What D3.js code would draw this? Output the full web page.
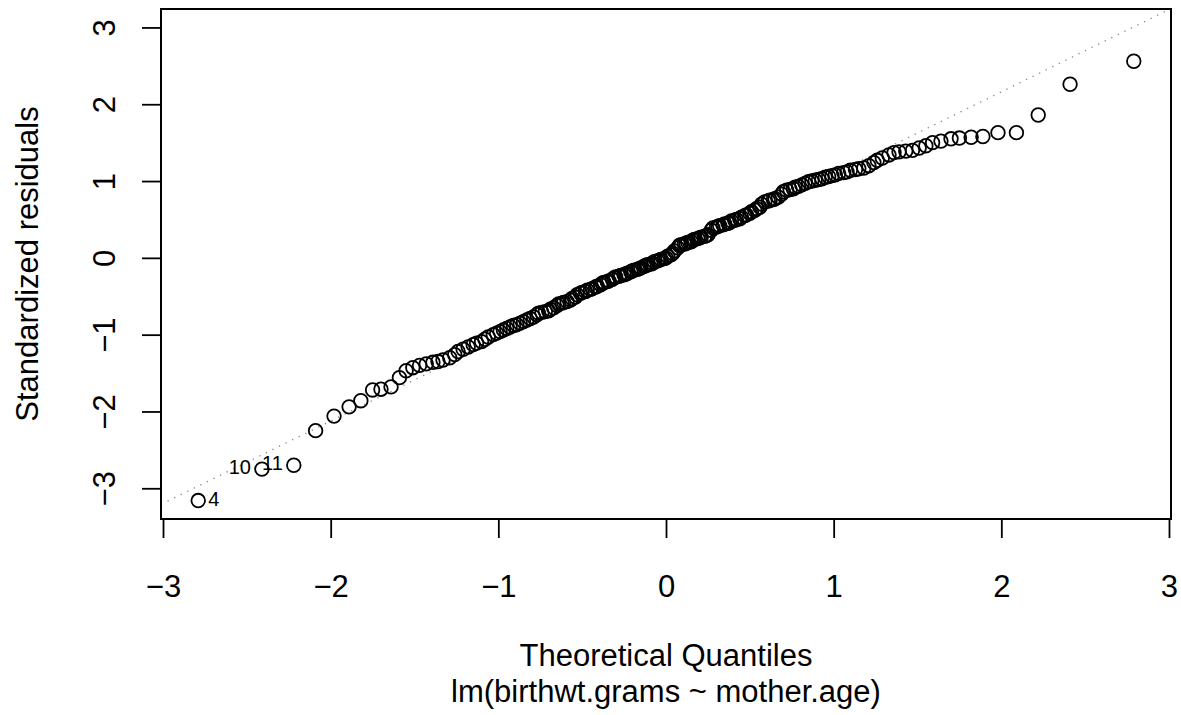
<!DOCTYPE html>
<html>
<head>
  <meta charset="utf-8">
  <title>Normal Q-Q</title>
  <script type="text/javascript" src="https://d3js.org/d3.v7.min.js"></script>
  <style>
    body { margin: 0; background: #fff; }
    text { font-family: "Liberation Sans", Arial, sans-serif; fill: #000; }
  </style>
</head>

<body>
  <div class="graph"></div>
</body>

<script>

  /* Data */
  const theoretical = [
    -2.79,-2.41,-2.22,-2.09,-1.98,-1.89,-1.82,-1.75,-1.70,-1.64,
    -1.59,-1.55,-1.51,-1.47,-1.43,-1.39,-1.36,-1.33,-1.29,-1.26,
    -1.24,-1.21,-1.18,-1.15,-1.13,-1.10,-1.08,-1.06,-1.03,-1.01,
    -0.99,-0.97,-0.95,-0.93,-0.91,-0.89,-0.87,-0.85,-0.83,-0.81,
    -0.79,-0.77,-0.76,-0.74,-0.72,-0.70,-0.69,-0.67,-0.65,-0.64,
    -0.62,-0.61,-0.59,-0.57,-0.56,-0.54,-0.53,-0.51,-0.50,-0.48,
    -0.47,-0.45,-0.44,-0.42,-0.41,-0.39,-0.38,-0.37,-0.35,-0.34,
    -0.32,-0.31,-0.30,-0.28,-0.27,-0.25,-0.24,-0.23,-0.21,-0.20,
    -0.19,-0.17,-0.16,-0.15,-0.13,-0.12,-0.11,-0.09,-0.08,-0.07,
    -0.05,-0.04,-0.03,-0.01,0.00,
    0.01,0.03,0.04,0.05,0.07,0.08,0.09,0.11,0.12,0.13,
    0.15,0.16,0.17,0.19,0.20,0.21,0.23,0.24,0.25,0.27,
    0.28,0.30,0.31,0.32,0.34,0.35,0.37,0.38,0.39,0.41,
    0.42,0.44,0.45,0.47,0.48,0.50,0.51,0.53,0.54,0.56,
    0.57,0.59,0.61,0.62,0.64,0.65,0.67,0.69,0.70,0.72,
    0.74,0.76,0.77,0.79,0.81,0.83,0.85,0.87,0.89,0.91,
    0.93,0.95,0.97,0.99,1.01,1.03,1.06,1.08,1.10,1.13,
    1.15,1.18,1.21,1.24,1.26,1.29,1.33,1.36,1.39,1.43,
    1.47,1.51,1.55,1.59,1.64,1.70,1.75,1.82,1.89,1.98,
    2.09,2.22,2.41,2.79
  ];

  const residuals = [
    -3.16,-2.75,-2.70,-2.25,-2.06,-1.94,-1.86,-1.72,-1.71,-1.68,
    -1.56,-1.47,-1.43,-1.40,-1.38,-1.36,-1.35,-1.33,-1.30,-1.26,
    -1.22,-1.19,-1.16,-1.13,-1.11,-1.09,-1.06,-1.03,-1.00,-0.98,
    -0.96,-0.94,-0.92,-0.90,-0.88,-0.87,-0.85,-0.83,-0.81,-0.79,
    -0.77,-0.74,-0.72,-0.71,-0.70,-0.69,-0.67,-0.65,-0.62,-0.60,
    -0.59,-0.58,-0.57,-0.55,-0.53,-0.51,-0.48,-0.46,-0.45,-0.44,
    -0.42,-0.41,-0.40,-0.38,-0.37,-0.35,-0.33,-0.32,-0.31,-0.30,
    -0.28,-0.26,-0.25,-0.24,-0.23,-0.22,-0.21,-0.20,-0.18,-0.17,
    -0.16,-0.15,-0.14,-0.13,-0.11,-0.10,-0.09,-0.08,-0.07,-0.05,
    -0.04,-0.03,-0.02,-0.01,0.00,
    0.02,0.04,0.06,0.09,0.13,0.16,0.17,0.18,0.19,0.20,
    0.21,0.23,0.24,0.25,0.26,0.27,0.28,0.29,0.30,0.36,
    0.39,0.40,0.41,0.42,0.43,0.44,0.45,0.46,0.48,0.49,
    0.50,0.51,0.53,0.55,0.56,0.58,0.60,0.62,0.64,0.66,
    0.70,0.73,0.74,0.75,0.76,0.77,0.79,0.83,0.86,0.88,
    0.89,0.90,0.92,0.93,0.95,0.97,0.99,1.00,1.01,1.02,
    1.03,1.05,1.06,1.07,1.08,1.10,1.11,1.12,1.14,1.15,
    1.16,1.17,1.20,1.24,1.27,1.30,1.34,1.37,1.38,1.39,
    1.40,1.43,1.46,1.50,1.52,1.55,1.56,1.57,1.58,1.63,
    1.63,1.86,2.26,2.56
  ];

  const xTicks = [-3, -2, -1, 0, 1, 2, 3];
  const yTicks = [-3, -2, -1, 0, 1, 2, 3];

  const xDomain = [-3.012, 3.012];
  const yDomain = [-3.40, 3.24];

  // outlying points that get an id label
  const idIndex = [0, 1, 2];
  const idLabels = ["4", "10", "11"];
  const idSide = ["right", "left", "left"];

  // reference line through the quartiles
  const qqSlope = 1.0715;
  const qqIntercept = 0.018;

  const points = theoretical.map((d, i) => ({ x: d, y: residuals[i] }));

  const margin = { top: 9, left: 161, bottom: 196, right: 10 };
  const width = 1181 - margin.left - margin.right;
  const height = 715 - margin.top - margin.bottom;

  const xScale = d3.scaleLinear()
    .domain(xDomain)
    .range([0, width]);

  const yScale = d3.scaleLinear()
    .domain(yDomain)
    .range([height, 0]);

  const root = d3.select('.graph')
    .append('svg')
    .attr('width', width + margin.left + margin.right)
    .attr('height', height + margin.top + margin.bottom);

  root.append('rect')
    .attr('width', 1181)
    .attr('height', 715)
    .attr('fill', '#fff');

  const svg = root.append('g')
    .attr('transform', `translate(${margin.left},${margin.top})`);

  svg.append('clipPath')
    .attr('id', 'plot-clip')
    .append('rect')
    .attr('width', width)
    .attr('height', height);

  /* Axes */
  const minusFormat = d => (d < 0 ? '\u2212' : '') + Math.abs(d);

  const xAxis = d3.axisBottom(xScale)
    .tickValues(xTicks)
    .tickSize(19)
    .tickPadding(37)
    .tickFormat(minusFormat);

  const yAxis = d3.axisLeft(yScale)
    .tickValues(yTicks)
    .tickSize(19)
    .tickFormat(minusFormat);

  const gx = svg.append('g')
    .attr('class', 'x-axis')
    .attr('transform', `translate(0, ${height})`)
    .call(xAxis);

  const gy = svg.append('g')
    .attr('class', 'y-axis')
    .call(yAxis);

  [gx, gy].forEach(g => {
    g.select('.domain').remove();
    g.selectAll('line').attr('stroke', '#000').attr('stroke-width', 1.8);
    g.selectAll('text').attr('font-size', 31).attr('fill', '#000');
  });

  gy.selectAll('text')
    .attr('x', null)
    .attr('dy', null)
    .attr('text-anchor', 'middle')
    .attr('transform', 'translate(-46,0) rotate(-90)');

  /* qq line */
  svg.append('line')
    .attr('clip-path', 'url(#plot-clip)')
    .attr('x1', xScale(xDomain[0]))
    .attr('y1', yScale(qqIntercept + qqSlope * xDomain[0]))
    .attr('x2', xScale(xDomain[1]))
    .attr('y2', yScale(qqIntercept + qqSlope * xDomain[1]))
    .attr('stroke', '#888')
    .attr('stroke-width', 1.3)
    .attr('stroke-dasharray', '1.3,6');

  /* points */
  svg.selectAll('.pt')
    .data(points)
    .enter()
    .append('circle')
    .attr('class', 'pt')
    .attr('cx', d => xScale(d.x))
    .attr('cy', d => yScale(d.y))
    .attr('r', 6.8)
    .attr('fill', 'none')
    .attr('stroke', '#000')
    .attr('stroke-width', 1.8);

  /* id labels */
  svg.selectAll('.id')
    .data(idIndex)
    .enter()
    .append('text')
    .attr('class', 'id')
    .attr('x', (d, i) => xScale(points[d].x) + (idSide[i] == 'right' ? 10 : -11))
    .attr('y', d => yScale(points[d].y) + 5)
    .attr('text-anchor', (d, i) => idSide[i] == 'right' ? 'start' : 'end')
    .attr('font-size', 20)
    .text((d, i) => idLabels[i]);

  /* box */
  svg.append('rect')
    .attr('width', width)
    .attr('height', height)
    .attr('fill', 'none')
    .attr('stroke', '#000')
    .attr('stroke-width', 2);

  /* Labels */
  root.append('text')
    .attr('x', margin.left + width / 2)
    .attr('y', 666)
    .attr('text-anchor', 'middle')
    .attr('font-size', 31)
    .text('Theoretical Quantiles');

  root.append('text')
    .attr('x', margin.left + width / 2)
    .attr('y', 702)
    .attr('text-anchor', 'middle')
    .attr('font-size', 31)
    .text('lm(birthwt.grams ~ mother.age)');

  root.append('text')
    .attr('transform', `translate(38, ${margin.top + height / 2}) rotate(-90)`)
    .attr('text-anchor', 'middle')
    .attr('font-size', 31)
    .text('Standardized residuals');

</script>

</html>
